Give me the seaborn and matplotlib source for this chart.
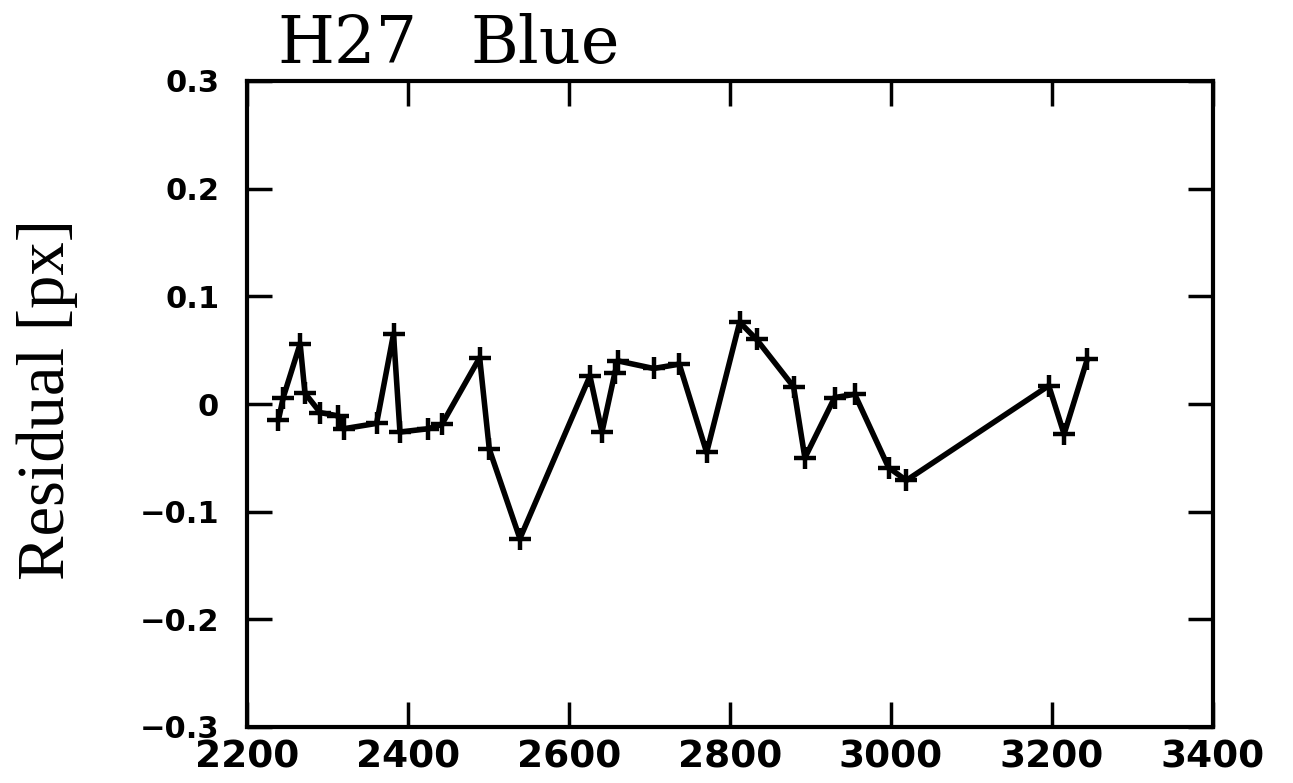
import matplotlib
matplotlib.use("Agg")
import matplotlib.pyplot as plt
import seaborn as sns
import pandas as pd

wavelength = [2239, 2245, 2266, 2272, 2291, 2313, 2320, 2361, 2382, 2390, 2425, 2442,
              2489, 2501, 2539, 2626, 2641, 2657, 2661, 2705, 2737, 2771, 2812, 2833,
              2879, 2893, 2930, 2955, 2997, 3019, 3196, 3215, 3244]
residual = [-0.015, 0.006, 0.056, 0.010, -0.008, -0.011, -0.023, -0.018, 0.065, -0.026,
            -0.023, -0.019, 0.043, -0.042, -0.125, 0.026, -0.026, 0.029, 0.040, 0.033,
            0.037, -0.045, 0.076, 0.060, 0.016, -0.050, 0.006, 0.009, -0.059, -0.071,
            0.017, -0.028, 0.042]
xticks = [2200, 2400, 2600, 2800, 3000, 3200, 3400]
yticks = [-0.3, -0.2, -0.1, 0, 0.1, 0.2, 0.3]
ytick_labels = ["\u22120.3", "\u22120.2", "\u22120.1", "0", "0.1", "0.2", "0.3"]
title_parts = ["H27", "Blue"]
ylabel = "Residual [px]"

sns.set_style("ticks")
plt.rcParams.update({"text.color": "black", "axes.labelcolor": "black",
                     "xtick.color": "black", "ytick.color": "black"})
df = pd.DataFrame({"x": wavelength, "y": residual})

fig = plt.figure(figsize=(12.93, 7.83), dpi=100)
ax = fig.add_axes([247/1293, 1-727/783, (1213-247)/1293, (727-81)/783])
sns.lineplot(data=df, x="x", y="y", ax=ax, color="black", linewidth=4.0,
             marker="+", markersize=16, markeredgewidth=3.2, markeredgecolor="black",
             sort=False)

ax.set_xlim(2200, 3400)
ax.set_ylim(-0.3, 0.3)
ax.set_xticks(xticks)
ax.set_xticklabels([str(v) for v in xticks])
ax.set_yticks(yticks)
ax.set_yticklabels(ytick_labels)
ax.set_xlabel("")
ax.set_ylabel("")
for s in ax.spines.values():
    s.set_visible(True)
    s.set_linewidth(3.0)
    s.set_color("black")
ax.tick_params(axis="both", direction="in", length=18, width=2.5, top=True, right=True,
               colors="black")
ax.tick_params(axis="x", labelsize=27, pad=9)
ax.tick_params(axis="y", labelsize=22, pad=20)
for lab in ax.get_xticklabels() + ax.get_yticklabels():
    lab.set_fontweight("bold")
    lab.set_family("DejaVu Sans")

fig.text(277/1293, 1-63/783, title_parts[0], fontsize=47, family="DejaVu Serif",
         ha="left", va="baseline", color="black")
fig.text(470/1293, 1-63/783, title_parts[1], fontsize=47, family="DejaVu Serif",
         ha="left", va="baseline", color="black")
fig.text(47/1293, 1-400/783, ylabel, fontsize=48, family="Liberation Serif",
         rotation=90, ha="center", va="center", color="black")

fig.savefig("out.png", dpi=100, facecolor="white")
